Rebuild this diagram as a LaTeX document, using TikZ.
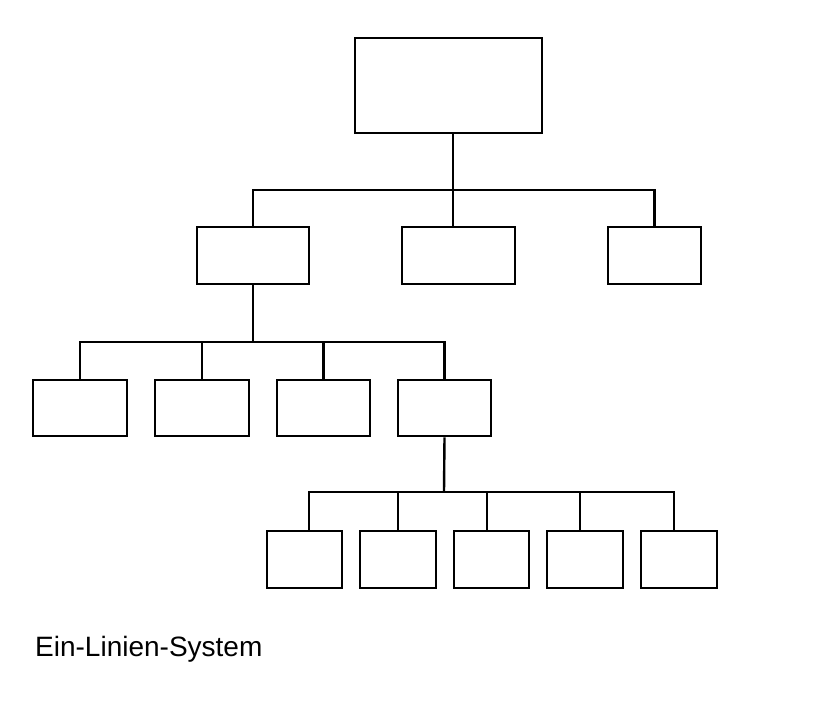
\documentclass[tikz,border=0pt]{standalone}
\usepackage{fontspec}
\setmainfont{Liberation Sans}
\usetikzlibrary{positioning,calc}
\tikzset{
  orgbox/.style={rectangle,draw,line width=2.6pt,inner sep=0pt,
                 minimum height=57pt},
  conn/.style={line width=2.4pt},
}

\begin{document}
\begin{tikzpicture}[x=1pt,y=-1pt]
    \useasboundingbox (0,0) rectangle (833,704);

    % top level
    \node[orgbox,minimum width=187pt,minimum height=95pt] (top) at (448.5,85.5) {};

    % second level
    \node[orgbox,minimum width=112pt] (B1) at (253,255.5) {};
    \node[orgbox,minimum width=113pt] (B2) at (458.5,255.5) {};
    \node[orgbox,minimum width=93pt]  (B3) at (654.5,255.5) {};

    % third level
    \node[orgbox,minimum width=94pt,minimum height=56pt] (C1) at (80,408) {};
    \node[orgbox,minimum width=94pt,minimum height=56pt] (C2) at (202,408) {};
    \node[orgbox,minimum width=93pt,minimum height=56pt] (C3) at (323.5,408) {};
    \node[orgbox,minimum width=93pt,minimum height=56pt] (C4) at (444.5,408) {};

    % fourth level
    \node[orgbox,minimum width=75pt] (D1) at (304.5,559.5) {};
    \node[orgbox,minimum width=76pt] (D2) at (398,559.5) {};
    \node[orgbox,minimum width=75pt] (D3) at (491.5,559.5) {};
    \node[orgbox,minimum width=76pt] (D4) at (585,559.5) {};
    \node[orgbox,minimum width=76pt] (D5) at (679,559.5) {};

    % lines
    \coordinate (bus1) at (453,190);
    \draw[conn] (top.south -| bus1) -- (bus1 |- B2.north);
    \draw[conn] (B1.north) |- (bus1) -| (B3.north);

    \coordinate (bus2) at (253,342);
    \draw[conn] (B1.south) -- (bus2);
    \draw[conn] (C1.north) |- (bus2) -| (C4.north);
    \draw[conn] (C2.north) -- (C2.north |- bus2);
    \draw[conn] (C3.north) -- (C3.north |- bus2);

    \coordinate (bus3) at (444,492);
    \coordinate (j1) at (309,492);
    \coordinate (j2) at (398,492);
    \coordinate (j3) at (487,492);
    \coordinate (j4) at (580,492);
    \coordinate (j5) at (674,492);
    \draw[conn] (C4.south) -- (bus3);
    \draw[conn] (j1 |- D1.north) -- (j1) -- (j5) -- (j5 |- D5.north);
    \draw[conn] (j2) -- (j2 |- D2.north);
    \draw[conn] (j3) -- (j3 |- D3.north);
    \draw[conn] (j4) -- (j4 |- D4.north);

    \node[anchor=base west,inner sep=0pt,font=\fontsize{28}{32}\selectfont] (caption) at (35,656) {Ein-Linien-System};
\end{tikzpicture}
\end{document}
